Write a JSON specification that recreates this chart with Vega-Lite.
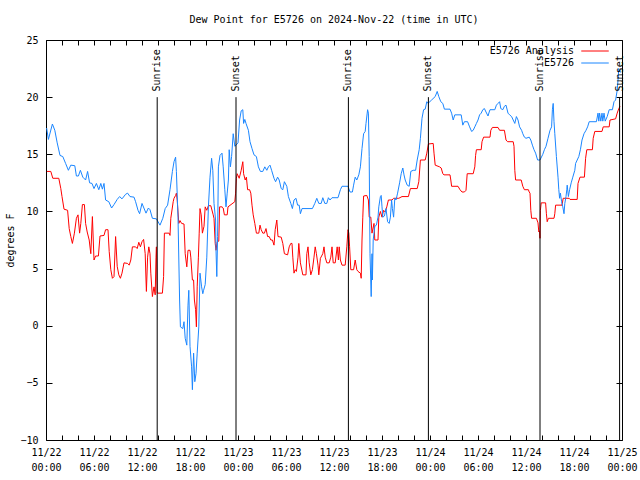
{
  "$schema": "https://vega.github.io/schema/vega-lite/v6.json",
  "width": 576,
  "height": 400,
  "autosize": "none",
  "padding": {"left": 46, "top": 40, "right": 18, "bottom": 40},
  "background": "white",
  "title": {"text": "Dew Point for E5726 on 2024-Nov-22 (time in UTC)", "font": "DejaVu Sans Mono", "fontSize": 10, "fontWeight": "normal", "offset": 10, "anchor": "middle", "color": "black"},
  "config": {
    "view": {"stroke": "black", "strokeWidth": 1},
    "font": "DejaVu Sans Mono",
    "axis": {"labelFont": "DejaVu Sans Mono", "labelFontSize": 10, "labelColor": "black", "tickColor": "black", "domain": false, "grid": false, "titleFont": "DejaVu Sans Mono", "titleFontSize": 10, "titleFontWeight": "normal", "titleColor": "black"}
  },
  "datasets": {
    "analysis": [
      {"hour":0.1,"dewpoint":13.5},{"hour":0.6,"dewpoint":13.5},{"hour":0.85,"dewpoint":12.9},{"hour":1.6,"dewpoint":12.9},{"hour":1.85,"dewpoint":12.0},{"hour":2.0,"dewpoint":11.3},{"hour":2.25,"dewpoint":10.2},{"hour":2.7,"dewpoint":10.1},{"hour":2.9,"dewpoint":8.5},{"hour":3.1,"dewpoint":7.8},{"hour":3.3,"dewpoint":7.2},{"hour":3.55,"dewpoint":8.1},{"hour":3.8,"dewpoint":9.4},{"hour":4.0,"dewpoint":9.7},{"hour":4.2,"dewpoint":8.1},{"hour":4.35,"dewpoint":8.95},{"hour":4.55,"dewpoint":10.6},{"hour":4.8,"dewpoint":10.6},{"hour":4.95,"dewpoint":8.95},{"hour":5.15,"dewpoint":8.2},{"hour":5.4,"dewpoint":7.5},{"hour":5.6,"dewpoint":6.3},{"hour":5.8,"dewpoint":9.55},{"hour":6.0,"dewpoint":5.75},{"hour":6.2,"dewpoint":6.1},{"hour":6.55,"dewpoint":6.1},{"hour":6.75,"dewpoint":7.85},{"hour":7.25,"dewpoint":7.9},{"hour":7.45,"dewpoint":8.4},{"hour":7.75,"dewpoint":8.4},{"hour":7.9,"dewpoint":6.5},{"hour":8.1,"dewpoint":4.9},{"hour":8.3,"dewpoint":4.15},{"hour":8.5,"dewpoint":4.3},{"hour":8.7,"dewpoint":7.8},{"hour":8.9,"dewpoint":5.2},{"hour":9.1,"dewpoint":4.45},{"hour":9.3,"dewpoint":4.15},{"hour":9.5,"dewpoint":4.6},{"hour":9.75,"dewpoint":5.5},{"hour":10.2,"dewpoint":5.45},{"hour":10.4,"dewpoint":5.3},{"hour":10.6,"dewpoint":5.75},{"hour":10.8,"dewpoint":6.9},{"hour":11.2,"dewpoint":6.9},{"hour":11.4,"dewpoint":6.75},{"hour":11.6,"dewpoint":7.3},{"hour":11.8,"dewpoint":6.9},{"hour":12.0,"dewpoint":7.35},{"hour":12.2,"dewpoint":7.55},{"hour":12.4,"dewpoint":6.3},{"hour":12.5,"dewpoint":4.0},{"hour":12.55,"dewpoint":3.0},{"hour":12.7,"dewpoint":6.0},{"hour":12.85,"dewpoint":6.9},{"hour":13.0,"dewpoint":6.3},{"hour":13.1,"dewpoint":4.6},{"hour":13.3,"dewpoint":2.55},{"hour":13.5,"dewpoint":3.4},{"hour":13.65,"dewpoint":2.7},{"hour":13.75,"dewpoint":6.0},{"hour":13.8,"dewpoint":6.9},{"hour":13.9,"dewpoint":2.85},{"hour":14.55,"dewpoint":2.85},{"hour":14.7,"dewpoint":4.3},{"hour":14.8,"dewpoint":8.1},{"hour":15.4,"dewpoint":8.1},{"hour":15.5,"dewpoint":7.9},{"hour":15.6,"dewpoint":9.4},{"hour":15.9,"dewpoint":10.85},{"hour":16.0,"dewpoint":11.15},{"hour":16.2,"dewpoint":11.4},{"hour":16.3,"dewpoint":11.6},{"hour":16.4,"dewpoint":11.0},{"hour":16.6,"dewpoint":8.95},{"hour":16.75,"dewpoint":9.2},{"hour":16.95,"dewpoint":8.95},{"hour":17.25,"dewpoint":8.9},{"hour":17.4,"dewpoint":6.3},{"hour":17.6,"dewpoint":5.15},{"hour":17.75,"dewpoint":6.6},{"hour":18.0,"dewpoint":6.6},{"hour":18.1,"dewpoint":6.0},{"hour":18.3,"dewpoint":4.0},{"hour":18.45,"dewpoint":4.0},{"hour":18.55,"dewpoint":2.25},{"hour":18.7,"dewpoint":1.4},{"hour":18.8,"dewpoint":-0.1},{"hour":18.9,"dewpoint":3.4},{"hour":19.05,"dewpoint":6.0},{"hour":19.15,"dewpoint":8.1},{"hour":19.25,"dewpoint":10.25},{"hour":19.4,"dewpoint":9.7},{"hour":19.55,"dewpoint":8.1},{"hour":19.75,"dewpoint":8.7},{"hour":19.9,"dewpoint":10.4},{"hour":20.1,"dewpoint":10.1},{"hour":20.3,"dewpoint":10.5},{"hour":20.6,"dewpoint":10.5},{"hour":20.9,"dewpoint":9.7},{"hour":21.0,"dewpoint":9.4},{"hour":21.15,"dewpoint":7.2},{"hour":21.25,"dewpoint":6.6},{"hour":21.4,"dewpoint":7.35},{"hour":21.6,"dewpoint":7.4},{"hour":21.7,"dewpoint":10.4},{"hour":22.0,"dewpoint":10.4},{"hour":22.15,"dewpoint":10.3},{"hour":22.3,"dewpoint":9.7},{"hour":22.65,"dewpoint":9.7},{"hour":22.75,"dewpoint":10.4},{"hour":23.6,"dewpoint":10.85},{"hour":23.7,"dewpoint":11.6},{"hour":23.8,"dewpoint":12.9},{"hour":23.9,"dewpoint":13.3},{"hour":24.15,"dewpoint":12.9},{"hour":24.4,"dewpoint":13.6},{"hour":24.6,"dewpoint":14.35},{"hour":24.7,"dewpoint":13.3},{"hour":24.9,"dewpoint":12.75},{"hour":25.05,"dewpoint":13.0},{"hour":25.2,"dewpoint":11.9},{"hour":25.45,"dewpoint":11.9},{"hour":25.6,"dewpoint":11.6},{"hour":25.75,"dewpoint":10.55},{"hour":25.9,"dewpoint":9.7},{"hour":26.1,"dewpoint":8.95},{"hour":26.3,"dewpoint":8.1},{"hour":26.6,"dewpoint":8.1},{"hour":26.75,"dewpoint":8.8},{"hour":26.9,"dewpoint":8.4},{"hour":27.1,"dewpoint":8.1},{"hour":27.3,"dewpoint":8.1},{"hour":27.5,"dewpoint":8.5},{"hour":27.7,"dewpoint":7.8},{"hour":27.9,"dewpoint":7.8},{"hour":28.1,"dewpoint":7.5},{"hour":28.3,"dewpoint":7.5},{"hour":28.5,"dewpoint":7.05},{"hour":28.65,"dewpoint":8.4},{"hour":28.85,"dewpoint":9.25},{"hour":29.0,"dewpoint":7.8},{"hour":29.4,"dewpoint":7.75},{"hour":29.6,"dewpoint":7.2},{"hour":29.8,"dewpoint":6.3},{"hour":30.2,"dewpoint":6.2},{"hour":30.4,"dewpoint":6.9},{"hour":30.6,"dewpoint":7.2},{"hour":30.75,"dewpoint":7.2},{"hour":30.85,"dewpoint":6.0},{"hour":31.0,"dewpoint":4.6},{"hour":31.15,"dewpoint":4.9},{"hour":31.3,"dewpoint":4.75},{"hour":31.5,"dewpoint":6.0},{"hour":31.6,"dewpoint":7.2},{"hour":31.8,"dewpoint":5.5},{"hour":32.1,"dewpoint":4.45},{"hour":32.5,"dewpoint":4.45},{"hour":32.6,"dewpoint":6.3},{"hour":32.75,"dewpoint":6.9},{"hour":32.9,"dewpoint":5.5},{"hour":33.1,"dewpoint":4.45},{"hour":33.3,"dewpoint":4.9},{"hour":33.5,"dewpoint":6.0},{"hour":33.65,"dewpoint":6.9},{"hour":33.8,"dewpoint":6.3},{"hour":34.0,"dewpoint":5.3},{"hour":34.1,"dewpoint":4.45},{"hour":34.3,"dewpoint":5.9},{"hour":34.6,"dewpoint":6.3},{"hour":34.75,"dewpoint":6.9},{"hour":34.9,"dewpoint":6.0},{"hour":35.1,"dewpoint":5.5},{"hour":35.4,"dewpoint":5.5},{"hour":35.6,"dewpoint":6.0},{"hour":35.75,"dewpoint":6.9},{"hour":35.9,"dewpoint":5.5},{"hour":36.15,"dewpoint":5.5},{"hour":36.4,"dewpoint":6.9},{"hour":36.55,"dewpoint":5.75},{"hour":36.65,"dewpoint":6.9},{"hour":36.8,"dewpoint":5.75},{"hour":37.0,"dewpoint":5.3},{"hour":37.4,"dewpoint":5.3},{"hour":37.6,"dewpoint":6.9},{"hour":37.75,"dewpoint":8.4},{"hour":37.85,"dewpoint":8.1},{"hour":37.95,"dewpoint":6.9},{"hour":38.1,"dewpoint":4.9},{"hour":38.45,"dewpoint":4.9},{"hour":38.65,"dewpoint":5.75},{"hour":38.85,"dewpoint":4.9},{"hour":39.0,"dewpoint":4.75},{"hour":39.3,"dewpoint":4.6},{"hour":39.4,"dewpoint":4.15},{"hour":39.5,"dewpoint":7.5},{"hour":39.6,"dewpoint":9.5},{"hour":39.7,"dewpoint":11.35},{"hour":40.1,"dewpoint":11.4},{"hour":40.3,"dewpoint":11.0},{"hour":40.4,"dewpoint":9.5},{"hour":40.6,"dewpoint":9.5},{"hour":40.75,"dewpoint":8.1},{"hour":41.0,"dewpoint":8.95},{"hour":41.1,"dewpoint":7.5},{"hour":41.5,"dewpoint":7.5},{"hour":41.6,"dewpoint":9.5},{"hour":41.8,"dewpoint":10.0},{"hour":42.0,"dewpoint":9.5},{"hour":42.2,"dewpoint":10.1},{"hour":42.4,"dewpoint":9.95},{"hour":42.6,"dewpoint":10.4},{"hour":42.8,"dewpoint":11.0},{"hour":43.25,"dewpoint":11.0},{"hour":43.45,"dewpoint":11.15},{"hour":44.1,"dewpoint":11.15},{"hour":44.5,"dewpoint":11.3},{"hour":45.3,"dewpoint":11.3},{"hour":45.55,"dewpoint":12.0},{"hour":46.4,"dewpoint":12.0},{"hour":46.6,"dewpoint":12.6},{"hour":46.8,"dewpoint":14.5},{"hour":47.4,"dewpoint":14.5},{"hour":47.6,"dewpoint":15.1},{"hour":47.8,"dewpoint":15.9},{"hour":48.4,"dewpoint":15.95},{"hour":48.5,"dewpoint":15.1},{"hour":48.65,"dewpoint":14.05},{"hour":49.2,"dewpoint":13.9},{"hour":49.4,"dewpoint":13.8},{"hour":49.6,"dewpoint":13.3},{"hour":49.75,"dewpoint":13.2},{"hour":50.5,"dewpoint":13.2},{"hour":50.6,"dewpoint":12.75},{"hour":50.7,"dewpoint":12.2},{"hour":51.5,"dewpoint":12.2},{"hour":51.75,"dewpoint":11.9},{"hour":52.0,"dewpoint":11.7},{"hour":52.3,"dewpoint":11.7},{"hour":52.5,"dewpoint":11.85},{"hour":52.65,"dewpoint":13.3},{"hour":53.4,"dewpoint":13.3},{"hour":53.6,"dewpoint":13.9},{"hour":53.7,"dewpoint":14.9},{"hour":53.8,"dewpoint":15.4},{"hour":54.4,"dewpoint":15.4},{"hour":54.5,"dewpoint":16.1},{"hour":54.7,"dewpoint":16.5},{"hour":55.5,"dewpoint":16.5},{"hour":55.6,"dewpoint":17.1},{"hour":55.8,"dewpoint":17.35},{"hour":56.5,"dewpoint":17.35},{"hour":56.7,"dewpoint":17.1},{"hour":57.3,"dewpoint":17.1},{"hour":57.5,"dewpoint":16.25},{"hour":57.7,"dewpoint":16.1},{"hour":58.4,"dewpoint":16.1},{"hour":58.5,"dewpoint":15.7},{"hour":58.6,"dewpoint":13.6},{"hour":58.7,"dewpoint":12.75},{"hour":59.4,"dewpoint":12.75},{"hour":59.6,"dewpoint":12.2},{"hour":59.8,"dewpoint":11.9},{"hour":60.3,"dewpoint":11.9},{"hour":60.4,"dewpoint":11.7},{"hour":60.5,"dewpoint":11.6},{"hour":60.6,"dewpoint":10.1},{"hour":60.7,"dewpoint":9.4},{"hour":61.3,"dewpoint":9.4},{"hour":61.5,"dewpoint":9.0},{"hour":61.6,"dewpoint":8.2},{"hour":61.7,"dewpoint":8.3},{"hour":61.75,"dewpoint":7.65},{"hour":61.8,"dewpoint":10.1},{"hour":61.9,"dewpoint":10.75},{"hour":62.45,"dewpoint":10.75},{"hour":62.55,"dewpoint":9.8},{"hour":62.65,"dewpoint":9.1},{"hour":62.8,"dewpoint":9.4},{"hour":63.5,"dewpoint":9.4},{"hour":63.6,"dewpoint":9.8},{"hour":63.7,"dewpoint":10.55},{"hour":64.5,"dewpoint":10.55},{"hour":64.65,"dewpoint":11.15},{"hour":65.4,"dewpoint":11.15},{"hour":65.5,"dewpoint":11.05},{"hour":66.4,"dewpoint":11.05},{"hour":66.5,"dewpoint":12.45},{"hour":66.75,"dewpoint":13.0},{"hour":67.3,"dewpoint":13.0},{"hour":67.45,"dewpoint":14.65},{"hour":67.6,"dewpoint":15.4},{"hour":68.3,"dewpoint":15.4},{"hour":68.4,"dewpoint":16.4},{"hour":68.6,"dewpoint":17.0},{"hour":69.5,"dewpoint":17.0},{"hour":69.65,"dewpoint":17.4},{"hour":70.4,"dewpoint":17.4},{"hour":70.5,"dewpoint":18.0},{"hour":71.2,"dewpoint":18.1},{"hour":71.4,"dewpoint":18.6},{"hour":71.6,"dewpoint":19.0},{"hour":71.75,"dewpoint":19.2}
    ],
    "station": [
      {"hour":0.08,"dewpoint":17.3},{"hour":0.3,"dewpoint":16.3},{"hour":0.8,"dewpoint":17.65},{"hour":1.1,"dewpoint":17.1},{"hour":1.4,"dewpoint":16.0},{"hour":1.75,"dewpoint":14.9},{"hour":2.1,"dewpoint":14.8},{"hour":2.45,"dewpoint":14.2},{"hour":2.8,"dewpoint":13.6},{"hour":3.1,"dewpoint":14.05},{"hour":3.6,"dewpoint":14.0},{"hour":3.8,"dewpoint":13.1},{"hour":4.05,"dewpoint":13.1},{"hour":4.3,"dewpoint":13.6},{"hour":4.6,"dewpoint":13.0},{"hour":4.95,"dewpoint":12.75},{"hour":5.2,"dewpoint":13.5},{"hour":5.45,"dewpoint":12.5},{"hour":5.75,"dewpoint":12.45},{"hour":6.0,"dewpoint":12.0},{"hour":6.3,"dewpoint":12.45},{"hour":6.6,"dewpoint":11.9},{"hour":6.85,"dewpoint":12.45},{"hour":7.05,"dewpoint":11.95},{"hour":7.25,"dewpoint":12.45},{"hour":7.45,"dewpoint":11.0},{"hour":7.85,"dewpoint":10.85},{"hour":8.2,"dewpoint":10.3},{"hour":8.5,"dewpoint":10.6},{"hour":8.9,"dewpoint":11.05},{"hour":9.2,"dewpoint":11.3},{"hour":9.5,"dewpoint":11.1},{"hour":9.95,"dewpoint":11.5},{"hour":10.2,"dewpoint":11.6},{"hour":10.5,"dewpoint":11.3},{"hour":11.0,"dewpoint":11.25},{"hour":11.2,"dewpoint":10.85},{"hour":11.5,"dewpoint":10.1},{"hour":11.7,"dewpoint":9.8},{"hour":12.0,"dewpoint":10.7},{"hour":12.5,"dewpoint":9.85},{"hour":12.8,"dewpoint":10.3},{"hour":13.0,"dewpoint":10.15},{"hour":13.3,"dewpoint":9.4},{"hour":13.8,"dewpoint":9.35},{"hour":14.25,"dewpoint":8.8},{"hour":14.6,"dewpoint":9.4},{"hour":14.9,"dewpoint":10.25},{"hour":15.2,"dewpoint":10.55},{"hour":15.5,"dewpoint":11.9},{"hour":15.8,"dewpoint":13.5},{"hour":16.0,"dewpoint":14.35},{"hour":16.2,"dewpoint":14.75},{"hour":16.3,"dewpoint":13.5},{"hour":16.5,"dewpoint":9.5},{"hour":16.7,"dewpoint":2.25},{"hour":16.8,"dewpoint":-0.1},{"hour":17.1,"dewpoint":-0.25},{"hour":17.25,"dewpoint":0.35},{"hour":17.4,"dewpoint":-1.1},{"hour":17.6,"dewpoint":-1.7},{"hour":17.75,"dewpoint":1.8},{"hour":17.85,"dewpoint":3.1},{"hour":18.0,"dewpoint":-1.8},{"hour":18.2,"dewpoint":-3.6},{"hour":18.3,"dewpoint":-5.6},{"hour":18.45,"dewpoint":-2.4},{"hour":18.6,"dewpoint":-4.9},{"hour":18.75,"dewpoint":-4.2},{"hour":18.9,"dewpoint":-2.4},{"hour":19.1,"dewpoint":-0.1},{"hour":19.25,"dewpoint":4.6},{"hour":19.45,"dewpoint":3.4},{"hour":19.6,"dewpoint":2.8},{"hour":19.7,"dewpoint":3.1},{"hour":19.9,"dewpoint":3.6},{"hour":20.1,"dewpoint":6.0},{"hour":20.3,"dewpoint":10.4},{"hour":20.5,"dewpoint":13.0},{"hour":20.7,"dewpoint":14.65},{"hour":20.85,"dewpoint":13.6},{"hour":21.0,"dewpoint":10.7},{"hour":21.2,"dewpoint":9.25},{"hour":21.25,"dewpoint":6.6},{"hour":21.35,"dewpoint":4.3},{"hour":21.45,"dewpoint":7.8},{"hour":21.55,"dewpoint":13.9},{"hour":21.75,"dewpoint":14.9},{"hour":22.0,"dewpoint":15.1},{"hour":22.15,"dewpoint":13.9},{"hour":22.35,"dewpoint":11.9},{"hour":22.5,"dewpoint":10.4},{"hour":22.65,"dewpoint":11.6},{"hour":22.8,"dewpoint":12.75},{"hour":22.9,"dewpoint":15.4},{"hour":23.05,"dewpoint":13.9},{"hour":23.2,"dewpoint":14.8},{"hour":23.4,"dewpoint":16.8},{"hour":23.6,"dewpoint":15.7},{"hour":23.75,"dewpoint":15.8},{"hour":24.0,"dewpoint":16.0},{"hour":24.2,"dewpoint":18.0},{"hour":24.4,"dewpoint":18.8},{"hour":24.6,"dewpoint":18.9},{"hour":24.7,"dewpoint":17.7},{"hour":24.85,"dewpoint":18.05},{"hour":25.0,"dewpoint":17.7},{"hour":25.3,"dewpoint":17.1},{"hour":25.5,"dewpoint":16.1},{"hour":25.75,"dewpoint":15.5},{"hour":26.0,"dewpoint":14.95},{"hour":26.3,"dewpoint":14.8},{"hour":26.55,"dewpoint":13.9},{"hour":26.8,"dewpoint":13.5},{"hour":27.1,"dewpoint":13.5},{"hour":27.35,"dewpoint":13.9},{"hour":27.6,"dewpoint":13.6},{"hour":27.8,"dewpoint":13.9},{"hour":28.0,"dewpoint":14.05},{"hour":28.2,"dewpoint":13.6},{"hour":28.5,"dewpoint":12.9},{"hour":28.7,"dewpoint":12.6},{"hour":28.95,"dewpoint":13.0},{"hour":29.15,"dewpoint":12.75},{"hour":29.4,"dewpoint":12.0},{"hour":29.6,"dewpoint":11.9},{"hour":29.8,"dewpoint":12.6},{"hour":30.1,"dewpoint":12.2},{"hour":30.3,"dewpoint":11.3},{"hour":30.6,"dewpoint":10.7},{"hour":30.8,"dewpoint":10.25},{"hour":31.0,"dewpoint":11.0},{"hour":31.25,"dewpoint":11.15},{"hour":31.45,"dewpoint":10.55},{"hour":31.65,"dewpoint":10.55},{"hour":31.8,"dewpoint":9.8},{"hour":32.0,"dewpoint":10.25},{"hour":33.3,"dewpoint":10.25},{"hour":33.6,"dewpoint":10.7},{"hour":33.85,"dewpoint":11.15},{"hour":34.1,"dewpoint":10.7},{"hour":34.4,"dewpoint":10.7},{"hour":34.6,"dewpoint":11.2},{"hour":34.85,"dewpoint":10.7},{"hour":35.1,"dewpoint":10.7},{"hour":35.3,"dewpoint":11.2},{"hour":35.5,"dewpoint":11.0},{"hour":35.75,"dewpoint":11.2},{"hour":36.5,"dewpoint":11.2},{"hour":36.8,"dewpoint":11.9},{"hour":37.0,"dewpoint":12.2},{"hour":37.75,"dewpoint":12.2},{"hour":38.0,"dewpoint":11.7},{"hour":38.3,"dewpoint":11.7},{"hour":38.45,"dewpoint":12.3},{"hour":38.65,"dewpoint":13.0},{"hour":38.85,"dewpoint":12.75},{"hour":39.1,"dewpoint":13.2},{"hour":39.3,"dewpoint":13.9},{"hour":39.5,"dewpoint":15.5},{"hour":39.7,"dewpoint":16.8},{"hour":39.9,"dewpoint":17.0},{"hour":40.0,"dewpoint":17.7},{"hour":40.2,"dewpoint":18.9},{"hour":40.3,"dewpoint":18.6},{"hour":40.4,"dewpoint":14.8},{"hour":40.5,"dewpoint":6.3},{"hour":40.65,"dewpoint":2.55},{"hour":40.75,"dewpoint":6.3},{"hour":40.8,"dewpoint":4.0},{"hour":40.9,"dewpoint":7.5},{"hour":41.1,"dewpoint":8.7},{"hour":41.3,"dewpoint":8.8},{"hour":41.5,"dewpoint":9.5},{"hour":41.6,"dewpoint":10.4},{"hour":41.8,"dewpoint":11.3},{"hour":41.9,"dewpoint":11.4},{"hour":42.0,"dewpoint":10.4},{"hour":42.1,"dewpoint":9.5},{"hour":42.3,"dewpoint":9.6},{"hour":42.5,"dewpoint":10.25},{"hour":42.7,"dewpoint":9.1},{"hour":42.9,"dewpoint":8.95},{"hour":43.05,"dewpoint":9.5},{"hour":43.2,"dewpoint":11.0},{"hour":43.3,"dewpoint":10.25},{"hour":43.45,"dewpoint":9.5},{"hour":43.6,"dewpoint":11.15},{"hour":43.75,"dewpoint":11.0},{"hour":43.95,"dewpoint":11.6},{"hour":44.2,"dewpoint":12.5},{"hour":44.4,"dewpoint":13.3},{"hour":44.6,"dewpoint":13.8},{"hour":44.75,"dewpoint":13.2},{"hour":44.9,"dewpoint":12.75},{"hour":45.15,"dewpoint":12.3},{"hour":45.4,"dewpoint":12.2},{"hour":45.6,"dewpoint":13.5},{"hour":45.9,"dewpoint":13.6},{"hour":46.2,"dewpoint":13.6},{"hour":46.4,"dewpoint":14.5},{"hour":46.65,"dewpoint":15.4},{"hour":46.8,"dewpoint":16.4},{"hour":47.0,"dewpoint":18.15},{"hour":47.2,"dewpoint":18.9},{"hour":47.4,"dewpoint":18.95},{"hour":47.6,"dewpoint":19.6},{"hour":47.75,"dewpoint":19.45},{"hour":48.2,"dewpoint":19.75},{"hour":48.65,"dewpoint":20.05},{"hour":48.9,"dewpoint":20.5},{"hour":49.1,"dewpoint":20.05},{"hour":49.35,"dewpoint":19.6},{"hour":49.6,"dewpoint":19.45},{"hour":49.8,"dewpoint":18.95},{"hour":50.5,"dewpoint":18.95},{"hour":50.7,"dewpoint":18.6},{"hour":50.9,"dewpoint":18.0},{"hour":51.1,"dewpoint":18.45},{"hour":51.9,"dewpoint":18.45},{"hour":52.1,"dewpoint":17.55},{"hour":52.3,"dewpoint":17.85},{"hour":52.7,"dewpoint":17.85},{"hour":52.95,"dewpoint":17.4},{"hour":53.2,"dewpoint":17.0},{"hour":53.4,"dewpoint":17.1},{"hour":53.6,"dewpoint":17.4},{"hour":53.8,"dewpoint":17.7},{"hour":54.0,"dewpoint":18.0},{"hour":54.2,"dewpoint":18.45},{"hour":54.4,"dewpoint":18.6},{"hour":54.6,"dewpoint":18.9},{"hour":54.8,"dewpoint":19.0},{"hour":55.0,"dewpoint":18.7},{"hour":55.25,"dewpoint":18.35},{"hour":55.4,"dewpoint":18.7},{"hour":55.5,"dewpoint":18.9},{"hour":56.1,"dewpoint":18.9},{"hour":56.3,"dewpoint":19.3},{"hour":56.5,"dewpoint":19.45},{"hour":56.7,"dewpoint":19.6},{"hour":56.85,"dewpoint":19.0},{"hour":57.1,"dewpoint":18.9},{"hour":57.3,"dewpoint":19.2},{"hour":57.5,"dewpoint":19.3},{"hour":57.75,"dewpoint":18.6},{"hour":57.95,"dewpoint":18.45},{"hour":58.2,"dewpoint":18.3},{"hour":58.4,"dewpoint":18.0},{"hour":58.6,"dewpoint":17.7},{"hour":58.8,"dewpoint":18.3},{"hour":59.0,"dewpoint":18.0},{"hour":59.2,"dewpoint":17.4},{"hour":59.45,"dewpoint":17.1},{"hour":59.6,"dewpoint":16.8},{"hour":59.8,"dewpoint":16.5},{"hour":60.0,"dewpoint":16.4},{"hour":60.4,"dewpoint":16.5},{"hour":60.6,"dewpoint":16.25},{"hour":60.8,"dewpoint":15.8},{"hour":61.0,"dewpoint":15.4},{"hour":61.2,"dewpoint":15.1},{"hour":61.45,"dewpoint":14.5},{"hour":61.75,"dewpoint":14.5},{"hour":62.1,"dewpoint":15.0},{"hour":62.3,"dewpoint":15.4},{"hour":62.5,"dewpoint":15.7},{"hour":62.75,"dewpoint":16.4},{"hour":63.0,"dewpoint":17.1},{"hour":63.2,"dewpoint":17.4},{"hour":63.3,"dewpoint":18.9},{"hour":63.4,"dewpoint":19.45},{"hour":63.5,"dewpoint":17.85},{"hour":63.6,"dewpoint":16.8},{"hour":63.8,"dewpoint":14.8},{"hour":64.0,"dewpoint":13.0},{"hour":64.1,"dewpoint":11.9},{"hour":64.2,"dewpoint":11.15},{"hour":64.3,"dewpoint":11.6},{"hour":64.45,"dewpoint":10.85},{"hour":64.6,"dewpoint":10.4},{"hour":64.75,"dewpoint":9.8},{"hour":64.85,"dewpoint":10.7},{"hour":65.0,"dewpoint":11.3},{"hour":65.1,"dewpoint":11.9},{"hour":65.15,"dewpoint":12.3},{"hour":65.3,"dewpoint":11.3},{"hour":65.45,"dewpoint":11.9},{"hour":65.65,"dewpoint":12.5},{"hour":65.85,"dewpoint":13.0},{"hour":66.1,"dewpoint":13.6},{"hour":66.2,"dewpoint":14.2},{"hour":66.4,"dewpoint":14.5},{"hour":66.6,"dewpoint":14.8},{"hour":66.8,"dewpoint":15.4},{"hour":67.0,"dewpoint":16.25},{"hour":67.25,"dewpoint":16.8},{"hour":67.5,"dewpoint":17.1},{"hour":67.7,"dewpoint":17.4},{"hour":67.9,"dewpoint":17.85},{"hour":68.8,"dewpoint":17.85},{"hour":69.0,"dewpoint":18.6},{"hour":69.1,"dewpoint":17.9},{"hour":69.2,"dewpoint":18.6},{"hour":69.35,"dewpoint":17.9},{"hour":69.5,"dewpoint":18.6},{"hour":69.6,"dewpoint":17.9},{"hour":69.75,"dewpoint":18.6},{"hour":69.9,"dewpoint":17.9},{"hour":70.15,"dewpoint":18.3},{"hour":70.4,"dewpoint":18.9},{"hour":70.8,"dewpoint":18.9},{"hour":71.0,"dewpoint":19.6},{"hour":71.2,"dewpoint":19.75},{"hour":71.4,"dewpoint":20.6},{"hour":71.5,"dewpoint":21.5},{"hour":71.6,"dewpoint":22.5},{"hour":71.75,"dewpoint":22.2},{"hour":71.9,"dewpoint":22.2}
    ],
    "events": [
      {"hour": 13.9, "event": "Sunrise"},
      {"hour": 23.75, "event": "Sunset"},
      {"hour": 37.8, "event": "Sunrise"},
      {"hour": 47.8, "event": "Sunset"},
      {"hour": 61.75, "event": "Sunrise"},
      {"hour": 71.7, "event": "Sunset"}
    ]
  },
  "resolve": {"axis": {"x": "independent", "y": "independent"}},
  "layer": [
    {
      "data": {"name": "analysis"},
      "mark": {"type": "line", "strokeWidth": 1, "clip": true},
      "encoding": {
        "x": {"field": "hour", "type": "quantitative", "scale": {"domain": [0, 72], "nice": false, "zero": false},
          "axis": {"orient": "bottom", "title": null, "values": [0,2,4,6,8,10,12,14,16,18,20,22,24,26,28,30,32,34,36,38,40,42,44,46,48,50,52,54,56,58,60,62,64,66,68,70,72],
            "labelExpr": "datum.value % 6 == 0 ? ['11/' + (22 + floor(datum.value / 24)), (datum.value % 24 < 10 ? '0' : '') + (datum.value % 24) + ':00'] : ''",
            "tickSize": -5, "labelPadding": 12, "labelLineHeight": 15, "labelOverlap": false, "labelFlush": false, "labelBound": false, "labelBaseline": "top"}},
        "y": {"field": "dewpoint", "type": "quantitative", "scale": {"domain": [-10, 25], "nice": false, "zero": false},
          "axis": {"orient": "left", "title": "degrees F", "values": [-10,-5,0,5,10,15,20,25], "tickSize": -6, "labelPadding": 14, "titlePadding": 4}},
        "color": {"datum": "E5726 Analysis", "type": "nominal",
          "scale": {"domain": ["E5726 Analysis", "E5726"], "range": ["#ff0000", "#1a86ff"]},
          "legend": {"orient": "none", "legendX": 543, "legendY": 5, "title": null, "symbolType": "M-2.5,0H2.5", "symbolSize": 121, "symbolStrokeWidth": 1, "labelAlign": "right", "labelOffset": -27, "labelFont": "DejaVu Sans Mono", "labelFontSize": 10, "labelColor": "black", "rowPadding": 1, "padding": 0}}
      }
    },
    {
      "data": {"name": "station"},
      "mark": {"type": "line", "strokeWidth": 1, "clip": true},
      "encoding": {
        "x": {"field": "hour", "type": "quantitative",
          "axis": {"orient": "top", "title": null, "labels": false, "values": [0,2,4,6,8,10,12,14,16,18,20,22,24,26,28,30,32,34,36,38,40,42,44,46,48,50,52,54,56,58,60,62,64,66,68,70,72], "tickSize": -5}},
        "y": {"field": "dewpoint", "type": "quantitative",
          "axis": {"orient": "right", "title": null, "labels": false, "values": [-10,-5,0,5,10,15,20,25], "tickSize": -6}},
        "color": {"datum": "E5726", "type": "nominal"}
      }
    },
    {
      "data": {"name": "events"},
      "mark": {"type": "rule", "color": "black", "strokeWidth": 1},
      "encoding": {
        "x": {"field": "hour", "type": "quantitative", "axis": null},
        "y": {"datum": 20, "axis": null},
        "y2": {"datum": -10}
      }
    },
    {
      "data": {"name": "events"},
      "mark": {"type": "text", "angle": 270, "align": "left", "baseline": "middle", "font": "DejaVu Sans Mono", "fontSize": 10, "color": "black"},
      "encoding": {
        "x": {"field": "hour", "type": "quantitative", "axis": null},
        "y": {"datum": 20.5, "axis": null},
        "text": {"field": "event"}
      }
    }
  ]
}
